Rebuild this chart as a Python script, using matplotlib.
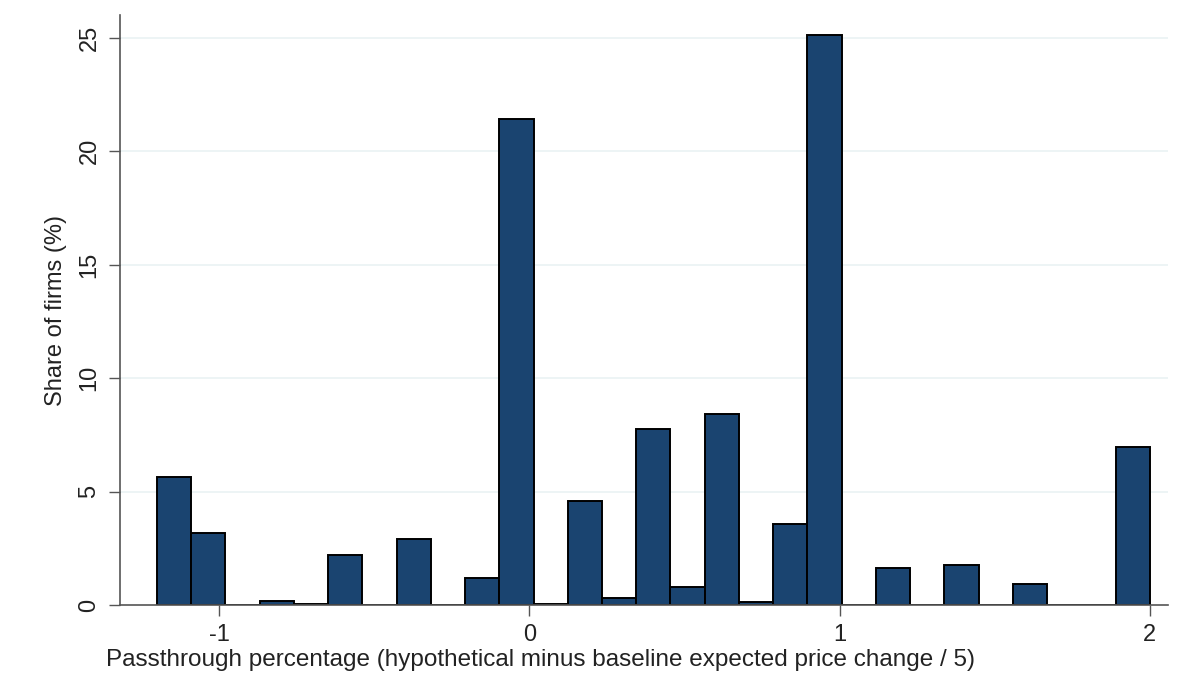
import numpy as np
import matplotlib
matplotlib.use('Agg')
import matplotlib.pyplot as plt

plt.rcParams['font.family'] = ['Liberation Sans', 'DejaVu Sans']
plt.rcParams['axes.unicode_minus'] = False

# histogram: 29 equal bins from -1.2 to 2.0, share of firms in %
bin_min = -1.2
bin_max = 2.0
shares = [5.66, 3.19, 0.0, 0.17, 0.05, 2.19, 0.0, 2.93, 0.0, 1.2,
          21.42, 0.04, 4.59, 0.3, 7.76, 0.78, 8.41, 0.15, 3.55, 25.13,
          0.0, 1.65, 0.0, 1.75, 0.0, 0.91, 0.0, 0.0, 6.95]
x_ticks = [-1, 0, 1, 2]
y_ticks = [0, 5, 10, 15, 20, 25]
x_label = 'Passthrough percentage (hypothetical minus baseline expected price change / 5)'
y_label = 'Share of firms (%)'

edges = np.linspace(bin_min, bin_max, len(shares) + 1)
width = edges[1] - edges[0]

fig = plt.figure(figsize=(11.88, 6.88), dpi=100)
ax = fig.add_axes([0.101, 0.1206, 0.882, 0.8574])

for y in y_ticks[1:]:
    ax.axhline(y, color='#eaf2f3', linewidth=1.2, zorder=0)

ax.bar(edges[:-1], shares, width=width, align='edge', color='#1a4470',
       edgecolor='black', linewidth=1.4, zorder=2)

ax.set_xlim(-1.319, 2.058)
ax.set_ylim(0, 26)
ax.set_xticks(x_ticks)
ax.set_yticks(y_ticks)
ax.set_yticklabels([str(t) for t in y_ticks], rotation=90, va='center')

for s in ['top', 'right']:
    ax.spines[s].set_visible(False)
for s in ['left', 'bottom']:
    ax.spines[s].set_color('#555555')
    ax.spines[s].set_linewidth(1.2)

ax.tick_params(axis='both', direction='out', length=8, width=1.0, color='#555555',
               labelcolor='#222222', pad=6, labelsize=17)
ax.set_xlabel(x_label, fontsize=17.5, color='#222222', ha='left', va='top')
ax.xaxis.set_label_coords(-0.0134, -0.0746)
ax.set_ylabel(y_label, fontsize=17, color='#222222', labelpad=8)

fig.savefig('out.png', dpi=100, facecolor='white')
